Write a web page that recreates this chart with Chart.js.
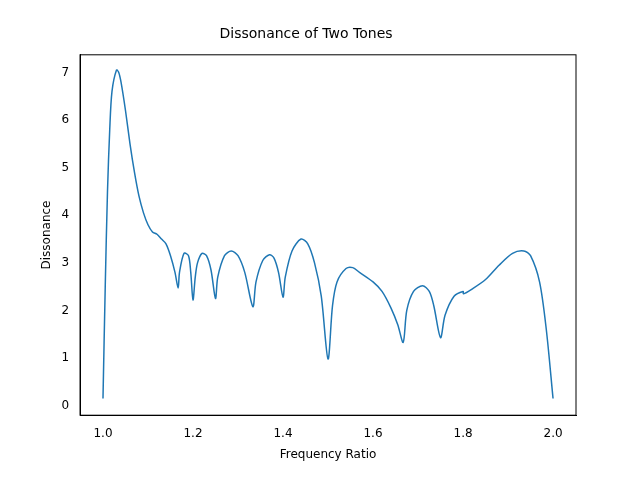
<!DOCTYPE html>
<html>
<head>
<meta charset="utf-8">
<script src="https://cdn.jsdelivr.net/npm/chart.js@4"></script>
<style>
  body { margin: 0; background: #fff; }
  #wrap { width: 640px; height: 480px; }
</style>
</head>
<body>
<div id="wrap"><canvas id="chart"></canvas></div>
<script>
// values
const ratios = [1.0, 1.005, 1.01, 1.015, 1.02, 1.03, 1.035, 1.04, 1.05, 1.06, 1.07, 1.08, 1.09, 1.1,
  1.11, 1.12, 1.13, 1.14, 1.15, 1.16, 1.167, 1.17, 1.18, 1.19, 1.195, 1.2, 1.205, 1.21, 1.22, 1.23,
  1.24, 1.25, 1.255, 1.27, 1.285, 1.3, 1.315, 1.333, 1.34, 1.355, 1.37, 1.38, 1.39, 1.4, 1.405, 1.42,
  1.44, 1.455, 1.47, 1.485, 1.5, 1.51, 1.52, 1.54, 1.555, 1.57, 1.6, 1.62, 1.64, 1.655, 1.667, 1.675,
  1.69, 1.71, 1.725, 1.735, 1.75, 1.76, 1.78, 1.8, 1.801, 1.82, 1.85, 1.88, 1.91, 1.935, 1.95, 1.97,
  1.985, 2.0];
const dissonance = [0.15, 2.5, 4.5, 5.8, 6.6, 7.05, 7.0, 6.8, 6.2, 5.5, 4.9, 4.4, 4.05, 3.8,
  3.65, 3.6, 3.5, 3.4, 3.15, 2.8, 2.47, 2.8, 3.2, 3.15, 2.8, 2.22, 2.7, 3.0, 3.2, 3.15,
  2.85, 2.25, 2.7, 3.15, 3.25, 3.15, 2.8, 2.08, 2.6, 3.05, 3.17, 3.1, 2.8, 2.28, 2.7, 3.25,
  3.5, 3.4, 3.0, 2.3, 0.98, 2.1, 2.6, 2.88, 2.9, 2.8, 2.6, 2.4, 2.05, 1.7, 1.33, 2.0,
  2.4, 2.52, 2.4, 2.1, 1.43, 1.9, 2.3, 2.4, 2.35, 2.45, 2.65, 2.95, 3.2, 3.25, 3.15, 2.6,
  1.6, 0.15];
const xTicks = [1.0, 1.2, 1.4, 1.6, 1.8, 2.0];
const yTicks = [0, 1, 2, 3, 4, 5, 6, 7];

const points = ratios.map((x, i) => ({ x, y: dissonance[i] }));
const font = { family: "DejaVu Sans", size: 12 };

// draw the full box around the plot area
const frame = {
  id: "frame",
  afterDraw(chart) {
    const { ctx, chartArea: a } = chart;
    ctx.save();
    ctx.strokeStyle = "#000";
    ctx.lineWidth = 1;
    ctx.strokeRect(a.left, a.top, a.right - a.left, a.bottom - a.top);
    ctx.restore();
  },
};

new Chart(document.getElementById("chart"), {
  type: "scatter",
  data: {
    datasets: [{
      data: points,
      showLine: true,
      borderColor: "#1f77b4",
      borderWidth: 1.5,
      pointRadius: 0,
      tension: 0.3,
    }],
  },
  plugins: [frame],
  options: {
    responsive: true,
    maintainAspectRatio: false,
    animation: false,
    layout: { padding: { left: 36, right: 64, top: 22, bottom: 14 } },
    plugins: {
      legend: { display: false },
      title: { display: true, text: "Dissonance of Two Tones", color: "#000", padding: { top: 4, bottom: 12 },
        font: { family: "DejaVu Sans", size: 14, weight: "normal" } },
    },
    scales: {
      x: {
        type: "linear", min: 0.949, max: 2.051,
        grid: { display: false },
        border: { color: "#000" },
        afterBuildTicks: axis => { axis.ticks = xTicks.map(v => ({ value: v })); },
        ticks: { color: "#000", font, autoSkip: false, callback: v => v.toFixed(1) },
        title: { display: true, text: "Frequency Ratio", color: "#000", font },
      },
      y: {
        min: -0.2, max: 7.37,
        grid: { display: false },
        border: { color: "#000" },
        afterBuildTicks: axis => { axis.ticks = yTicks.map(v => ({ value: v })); },
        ticks: { color: "#000", font, callback: v => v },
        title: { display: true, text: "Dissonance", color: "#000", font },
      },
    },
  },
});
</script>
</body>
</html>
